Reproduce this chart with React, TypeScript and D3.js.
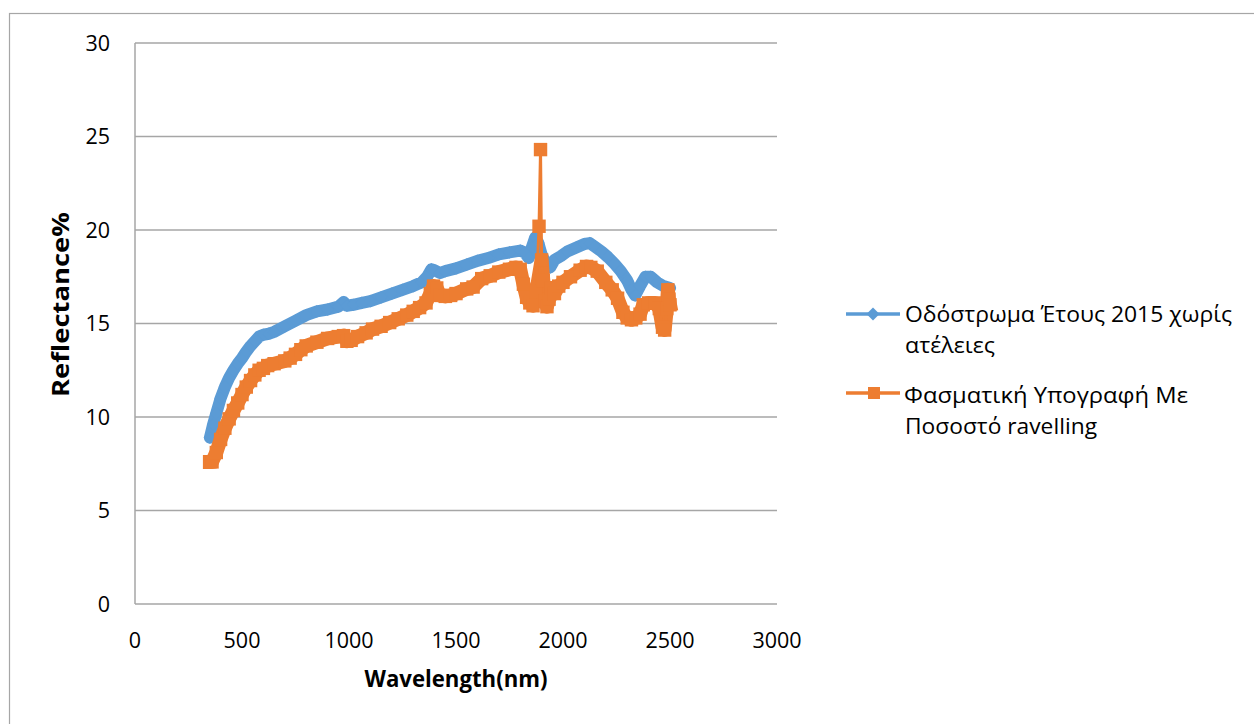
import React from "react";
import * as d3 from "d3";

// Spectral reflectance of the 2015 road surface without defects (blue)
const blueWavelength = [
  350, 365, 380, 400, 420, 440, 460, 480, 500, 520, 540, 560, 580, 600, 625, 650,
  700, 750, 800, 850, 900, 950, 975, 990, 1020, 1060, 1100, 1150, 1200, 1250, 1300,
  1340, 1365, 1385, 1400, 1425, 1450, 1500, 1550, 1600, 1650, 1700, 1750, 1800,
  1820, 1840, 1855, 1870, 1885, 1900, 1920, 1940, 1960, 1990, 2020, 2060, 2100,
  2125, 2150, 2180, 2210, 2240, 2270, 2300, 2320, 2337, 2360, 2385, 2410, 2440,
  2470, 2500,
];
const blueReflectance = [
  8.9, 9.6, 10.2, 11.0, 11.6, 12.1, 12.5, 12.85, 13.15, 13.5, 13.8, 14.05, 14.3,
  14.4, 14.45, 14.55, 14.85, 15.15, 15.45, 15.65, 15.75, 15.9, 16.15, 15.95, 16.0,
  16.1, 16.2, 16.4, 16.6, 16.8, 17.0, 17.2, 17.5, 17.9, 17.85, 17.7, 17.8, 17.95,
  18.15, 18.35, 18.5, 18.7, 18.8, 18.9, 18.8, 18.5, 19.1, 19.6, 19.3, 18.7, 18.2,
  18.0, 18.4, 18.6, 18.85, 19.05, 19.25, 19.3, 19.1, 18.85, 18.55, 18.2, 17.8,
  17.3, 16.8, 16.5, 17.0, 17.5, 17.5, 17.2, 17.0, 16.9,
];

// Spectral signature of the surface with ravelling (orange)
const orangeWavelength = [
  350, 360, 380, 400, 420, 440, 460, 480, 500, 520, 540, 560, 580, 600, 620, 650,
  700, 725, 750, 775, 800, 850, 900, 950, 975, 990, 1010, 1040, 1080, 1110, 1150,
  1190, 1230, 1270, 1300, 1330, 1360, 1380, 1395, 1410, 1425, 1450, 1475, 1500,
  1550, 1580, 1620, 1660, 1700, 1750, 1780, 1800, 1815, 1830, 1845, 1860, 1875,
  1888, 1895, 1900, 1908, 1915, 1925, 1935, 1945, 1960, 1980, 2000, 2035, 2080,
  2110, 2130, 2160, 2200, 2230, 2255, 2280, 2300, 2320, 2340, 2360, 2375, 2400,
  2430, 2450, 2465, 2475, 2485, 2490, 2495, 2500,
];
const orangeReflectance = [
  7.6, 7.6, 8.1, 8.8, 9.4, 9.9, 10.35, 10.75, 11.2, 11.6, 11.95, 12.25, 12.5, 12.6,
  12.75, 12.85, 13.0, 13.15, 13.35, 13.6, 13.8, 14.0, 14.2, 14.3, 14.35, 14.05,
  14.1, 14.3, 14.5, 14.7, 14.85, 15.05, 15.25, 15.45, 15.65, 15.85, 16.1, 16.6,
  17.0, 16.9, 16.5, 16.45, 16.5, 16.6, 16.85, 16.95, 17.4, 17.55, 17.75, 17.9,
  18.0, 17.9, 17.1, 16.4, 16.1, 15.95, 16.7, 20.2, 24.3, 18.4, 17.3, 16.2, 15.9,
  16.3, 16.9, 16.6, 17.0, 17.2, 17.5, 17.85, 18.05, 18.0, 17.8, 17.2, 16.8, 16.35,
  15.6, 15.3, 15.2, 15.3, 15.5, 16.0, 16.1, 16.1, 15.8, 14.8, 14.65, 15.8, 16.8,
  16.3, 16.0,
];
// Isolated readings of the orange series (the spike near 1.9 µm)
const orangeIsolatedWavelength = [1888, 1895];

const xTicks = [0, 500, 1000, 1500, 2000, 2500, 3000];
const yTicks = [0, 5, 10, 15, 20, 25, 30];

const xTitle = "Wavelength(nm)";
const yTitle = "Reflectance%";
const legendBlue = ["Οδόστρωμα Έτους 2015 χωρίς", "ατέλειες"];
const legendOrange = ["Φασματική Υπογραφή Με", "Ποσοστό ravelling"];

const BLUE = "#5B9BD5";
const ORANGE = "#ED7D31";
const GRID = "#a6a6a6";
const FONT = "'Open Sans', 'Noto Sans', sans-serif";

type Pt = [number, number];

export default function App() {
  const x = d3.scaleLinear().domain([0, 3000]).range([135, 777]);
  const y = d3.scaleLinear().domain([0, 30]).range([604, 43]);

  const blue: Pt[] = blueWavelength.map((w, i) => [w, blueReflectance[i]]);
  const orange: Pt[] = orangeWavelength.map((w, i) => [w, orangeReflectance[i]]);
  const orangeBand = orange.filter((p) => !orangeIsolatedWavelength.includes(p[0]));

  const line = d3
    .line<Pt>()
    .x((d) => x(d[0]))
    .y((d) => y(d[1]));

  const diamond = d3.symbol().type(d3.symbolSquare).size(80)() as string;
  const square = d3.symbol().type(d3.symbolSquare).size(180)() as string;
  const legendDiamond = d3.symbol().type(d3.symbolSquare).size(84)() as string;
  const legendSquare = d3.symbol().type(d3.symbolSquare).size(144)() as string;

  return (
    <svg
      width={1254}
      height={724}
      style={{ position: "absolute", left: 0, top: 0, background: "#fff" }}
      fontFamily={FONT}
    >
      {/* chart frame */}
      <rect x={9.5} y={13.5} width={1400} height={900} fill="#fff" stroke={GRID} strokeWidth={1.2} />

      {/* horizontal gridlines */}
      {yTicks.map((t) => (
        <line key={"g" + t} x1={x(0)} x2={x(3000)} y1={y(t)} y2={y(t)} stroke={GRID} strokeWidth={1.5} />
      ))}
      {/* vertical axis line */}
      <line x1={x(0)} x2={x(0)} y1={y(30)} y2={y(0)} stroke={GRID} strokeWidth={1.5} />

      {/* y tick labels */}
      {yTicks.map((t) => (
        <text key={"yl" + t} x={110} y={y(t) + 7.5} textAnchor="end" fontSize={21.5} fill="#000">
          {t}
        </text>
      ))}
      {/* x tick labels */}
      {xTicks.map((t) => (
        <text key={"xl" + t} x={x(t)} y={648} textAnchor="middle" fontSize={21.5} fill="#000">
          {t}
        </text>
      ))}

      {/* axis titles */}
      <text
        x={456}
        y={687}
        textAnchor="middle"
        fontSize={23}
        fontWeight="bold"
        textLength={183}
        lengthAdjust="spacingAndGlyphs"
      >
        {xTitle}
      </text>
      <text
        transform="translate(69,304.5) rotate(-90)"
        textAnchor="middle"
        fontSize={24}
        fontWeight="bold"
        textLength={185}
        lengthAdjust="spacingAndGlyphs"
      >
        {yTitle}
      </text>

      {/* blue series */}
      <g>
        <path d={line(blue) as string} fill="none" stroke={BLUE} strokeWidth={12} strokeLinejoin="round" strokeLinecap="round" />
        {blue.map((p, i) => (
          <path key={"bd" + i} d={diamond} fill={BLUE} transform={`translate(${x(p[0])},${y(p[1])}) rotate(45)`} />
        ))}
      </g>

      {/* orange series */}
      <g>
        <path d={line(orangeBand) as string} fill="none" stroke={ORANGE} strokeWidth={14} strokeLinejoin="round" strokeLinecap="square" />
        <path d={line(orange) as string} fill="none" stroke={ORANGE} strokeWidth={3} strokeLinejoin="round" />
        {orange.map((p, i) => (
          <path key={"os" + i} d={square} fill={ORANGE} transform={`translate(${x(p[0])},${y(p[1])})`} />
        ))}
      </g>

      {/* legend */}
      <g>
        <line x1={846} x2={900} y1={314} y2={314} stroke={BLUE} strokeWidth={3.5} />
        <path d={legendDiamond} fill={BLUE} transform="translate(873,314) rotate(45)" />
        <text x={905} y={321.7} fontSize={22} textLength={327} lengthAdjust="spacingAndGlyphs">
          {legendBlue[0]}
        </text>
        <text x={905} y={353.3} fontSize={22} textLength={90} lengthAdjust="spacingAndGlyphs">
          {legendBlue[1]}
        </text>

        <line x1={846} x2={900} y1={393} y2={393} stroke={ORANGE} strokeWidth={3.5} />
        <path d={legendSquare} fill={ORANGE} transform="translate(874,393)" />
        <text x={904} y={402.7} fontSize={22} textLength={284} lengthAdjust="spacingAndGlyphs">
          {legendOrange[0]}
        </text>
        <text x={905} y={434} fontSize={22} textLength={192} lengthAdjust="spacingAndGlyphs">
          {legendOrange[1]}
        </text>
      </g>
    </svg>
  );
}
